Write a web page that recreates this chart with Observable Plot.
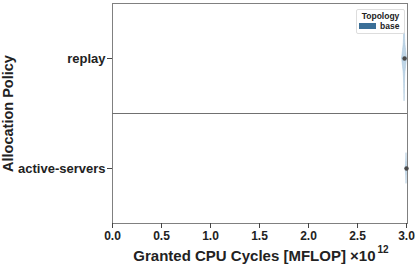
<!DOCTYPE html>
<html>
<head>
<meta charset="utf-8">
<script src="https://cdn.jsdelivr.net/npm/d3@7"></script>
<script src="https://cdn.jsdelivr.net/npm/@observablehq/plot@0.6"></script>
<style>
  html, body { margin: 0; padding: 0; background: #fff; }
  #wrap { position: relative; width: 415px; height: 265px; font-family: "Liberation Sans", Arial, sans-serif; }
  #legend { position: absolute; left: 356px; top: 9px; width: 47px; height: 23px; border: 1px solid #ddd; background: #fff; border-radius: 2px; font-weight: bold; font-size: 8.5px; color: #222; }
  #legend .t { position: absolute; left: 0; width: 100%; text-align: center; top: 1px; }
  #legend .sw { position: absolute; left: 2px; top: 13px; width: 17px; height: 6px; background: #3b6f97; }
  #legend .l { position: absolute; left: 23px; top: 11px; }
</style>
</head>
<body>
<div id="wrap"></div>
<script>
// Categories (top to bottom) and their positions on the category axis
const categories = ["replay", "active-servers"];
const categoryPos = [1, 0];
// Violin outlines (values in units of 10^12 MFLOP, half-widths in band units)
const replayValues = [2.955, 2.965, 2.972, 2.978, 2.980, 2.982, 2.988, 2.995, 3.005];
const replayWidths = [0.0, 0.08, 0.14, 0.32, 0.39, 0.32, 0.14, 0.08, 0.0];
const activeValues = [2.990, 2.995, 2.999, 3.000, 3.001, 3.005, 3.010];
const activeWidths = [0.0, 0.04, 0.10, 0.14, 0.10, 0.04, 0.0];
// Medians
const medians = [2.98, 3.0];
const xTicks = [0, 0.5, 1.0, 1.5, 2.0, 2.5, 3.0];

const violin = [];
replayValues.forEach((v, i) => violin.push({cat: categories[0], pos: categoryPos[0], x: v, w: replayWidths[i]}));
activeValues.forEach((v, i) => violin.push({cat: categories[1], pos: categoryPos[1], x: v, w: activeWidths[i]}));
const med = categories.map((c, i) => ({cat: c, pos: categoryPos[i], x: medians[i]}));

const chart = Plot.plot({
  width: 415,
  height: 265,
  marginLeft: 112,
  marginRight: 8,
  marginTop: 3,
  marginBottom: 42,
  style: {fontFamily: "'Liberation Sans', Arial, sans-serif", fontWeight: "bold", color: "#222", background: "#fff"},
  x: {domain: [0, 3.01], ticks: xTicks, tickFormat: d3.format(".1f"), label: null},
  y: {domain: [-0.5, 1.5], ticks: categoryPos, tickFormat: d => categories[categoryPos.indexOf(d)], label: null},
  marks: [
    Plot.frame({stroke: "#808080", strokeWidth: 1}),
    Plot.ruleY([0.5], {stroke: "#707070", strokeWidth: 1}),
    Plot.areaY(violin, {x: "x", y1: d => d.pos - d.w, y2: d => d.pos + d.w, z: "cat", fill: "#bcd3e5", fillOpacity: 0.95, stroke: "#a3c0d8", strokeWidth: 0.5, curve: "catmull-rom", clip: true}),
    Plot.dot(med, {x: "x", y: "pos", r: 2.2, fill: "#4a4a4a", stroke: null}),
    Plot.axisX({ticks: xTicks, tickFormat: d3.format(".1f"), tickSize: 5, tickPadding: 3, fontSize: 12, stroke: "#444", label: null}),
    Plot.axisY({ticks: categoryPos, tickFormat: d => categories[categoryPos.indexOf(d)], tickSize: 5, tickPadding: 2, fontSize: 13, stroke: "#444", label: null}),
    Plot.text(["Granted CPU Cycles [MFLOP] ×10"], {frameAnchor: "bottom", dy: 37, dx: 1, fontSize: 15, fontWeight: "bold", fill: "#222", className: "xlab"}),
    Plot.text(["Allocation Policy"], {frameAnchor: "left", dx: -104, rotate: -90, textAnchor: "middle", fontSize: 14.5, fontWeight: "bold", fill: "#222"})
  ]
});
// superscript exponent on the x label
const xl = chart.querySelector(".xlab text");
if (xl) {
  const ts = document.createElementNS("http://www.w3.org/2000/svg", "tspan");
  ts.setAttribute("dy", "-8");
  ts.setAttribute("dx", "2");
  ts.setAttribute("font-size", "10");
  ts.textContent = "12";
  xl.appendChild(ts);
}
const wrap = document.getElementById("wrap");
wrap.appendChild(chart);
const lg = document.createElement("div");
lg.id = "legend";
lg.innerHTML = '<div class="t">Topology</div><div class="sw"></div><div class="l">base</div>';
wrap.appendChild(lg);
</script>
</body>
</html>
